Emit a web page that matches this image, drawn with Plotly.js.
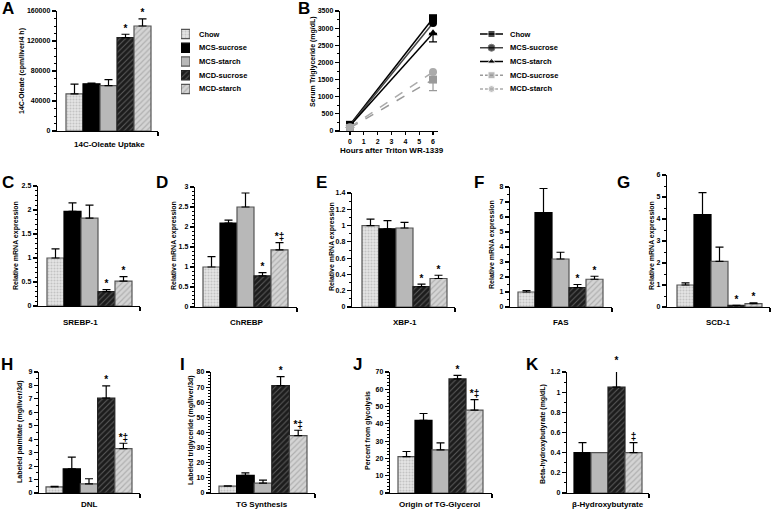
<!DOCTYPE html>
<html><head><meta charset="utf-8">
<script src="https://cdn.plot.ly/plotly-3.0.1.min.js"></script>
<style>html,body{margin:0;padding:0;background:#fff}#chart{width:771px;height:511px}</style>
</head><body><div id="chart"></div>
<script>
// ---------------- DATA ----------------
const groups = ['Chow','MCS-sucrose','MCS-starch','MCD-sucrose','MCD-starch'];
const groupsK = ['MCS-sucrose','MCS-starch','MCD-sucrose','MCD-starch'];

// A: 14C-Oleate uptake
const oleateVals = [49500, 63000, 60500, 124500, 140000];
const oleateErr  = [13000, 800, 8000, 4500, 9500];
const oleateMarks = ['', '', '', '*', '*'];

// B: serum triglyceride after Triton
const hours = [0, 6];
const tgChow = [180, 3290];
const tgMcsSucrose = [160, 3150];
const tgMcsStarch = [150, 2850];
const tgMcdSucrose = [90, 1500];
const tgMcdStarch = [110, 1720];
const tgChowErr = [0, 60];
const tgMcsSucroseErr = [0, 0];
const tgMcsStarchErr = [0, 250];
const tgMcdSucroseErr = [0, 320];
const tgMcdStarchErr = [0, 0];
const tgMarks = ['', '', '', '*', '*'];

// C-G: relative mRNA expression
const srebpVals = [1.0, 1.97, 1.83, 0.30, 0.52];
const srebpErr  = [0.19, 0.18, 0.27, 0.04, 0.09];
const srebpMarks = ['', '', '', '*', '*'];
const chrebpVals = [1.0, 2.1, 2.5, 0.78, 1.43];
const chrebpErr  = [0.26, 0.07, 0.35, 0.08, 0.18];
const chrebpMarks = ['', '', '', '*', '*‡'];
const xbpVals = [1.0, 0.96, 0.97, 0.25, 0.35];
const xbpErr  = [0.08, 0.10, 0.07, 0.03, 0.04];
const xbpMarks = ['', '', '', '*', '*'];
const fasVals = [1.0, 6.3, 3.2, 1.3, 1.85];
const fasErr  = [0.1, 1.6, 0.45, 0.2, 0.2];
const fasMarks = ['', '', '', '*', '*'];
const scdVals = [1.0, 4.2, 2.07, 0.07, 0.15];
const scdErr  = [0.1, 1.0, 0.65, 0.01, 0.04];
const scdMarks = ['', '', '', '*', '*'];

// H-K
const dnlVals = [0.45, 1.8, 0.68, 7.05, 3.3];
const dnlErr  = [0.05, 0.87, 0.38, 0.92, 0.4];
const dnlMarks = ['', '', '', '*', '*‡'];
const tgsVals = [4.5, 11.7, 6.5, 71, 38];
const tgsErr  = [0.3, 1.6, 2.0, 6, 3.5];
const tgsMarks = ['', '', '', '*', '*‡'];
const glyVals = [21, 42, 25, 66, 48];
const glyErr  = [3, 4, 4, 2, 6];
const glyMarks = ['', '', '', '*', '*‡'];
const bhbVals = [0.4, 0.4, 1.05, 0.4];
const bhbErr  = [0.1, 0, 0.2, 0.1];
const bhbMarks = ['', '', '*', '‡'];

// ---------------- STYLE ----------------
const W = 771, H = 511;
const FONT = 'Liberation Sans, Arial, sans-serif';
const barStyle = {
  'Chow':        {color:'#e6e6e6', shape:'.', fg:'#a0a0a0', size:3, sol:0.4, line:'#555'},
  'MCS-sucrose': {color:'#000000', shape:'',  fg:'#000',    size:4, sol:0.3, line:'#000'},
  'MCS-starch':  {color:'#b8b8b8', shape:'',  fg:'#b8b8b8', size:4, sol:0.3, line:'#555'},
  'MCD-sucrose': {color:'#1c1c1c', shape:'/', fg:'#9a9a9a', size:4, sol:0.25, line:'#222'},
  'MCD-starch':  {color:'#d4d4d4', shape:'/', fg:'#8c8c8c', size:4, sol:0.3, line:'#555'}
};
const lineStyle = {
  'Chow':        {color:'#000', dash:'solid', symbol:'square'},
  'MCS-sucrose': {color:'#444', dash:'solid', symbol:'circle', mcolor:'#000'},
  'MCS-starch':  {color:'#000', dash:'solid', symbol:'triangle-up'},
  'MCD-sucrose': {color:'#9a9a9a', dash:'dash', symbol:'square'},
  'MCD-starch':  {color:'#ababab', dash:'dash', symbol:'circle'}
};

const barPanels = [
  {ax_i:1, letter:'A', cats:groups, vals:oleateVals, err:oleateErr, marks:oleateMarks, xlabel:'14C-Oleate Uptake', ytitle:'14C-Oleate (cpm/liver/4 h)',
   ymax:160000, dtick:40000, minor:10000, ax:[57,158], bars:[66,151], top:11, bottom:131, xl:[109,145], yt:[22,71], lp:[8,9]},
  {ax_i:3, letter:'C', cats:groups, vals:srebpVals, err:srebpErr, marks:srebpMarks, xlabel:'SREBP-1', ytitle:'Relative mRNA expression',
   ymax:2.5, dtick:0.5, minor:0.1, ax:[38,140], bars:[47,132], top:186, bottom:306, xl:[80,322], yt:[16,246], lp:[8,182]},
  {ax_i:4, letter:'D', cats:groups, vals:chrebpVals, err:chrebpErr, marks:chrebpMarks, xlabel:'ChREBP', ytitle:'Relative mRNA expression',
   ymax:3, dtick:0.5, minor:0.1, ax:[195,297], bars:[203,288], top:187, bottom:307, xl:[247,322], yt:[174,246], lp:[162,182]},
  {ax_i:5, letter:'E', cats:groups, vals:xbpVals, err:xbpErr, marks:xbpMarks, xlabel:'XBP-1', ytitle:'Relative mRNA expression',
   ymax:1.4, dtick:0.2, minor:0.1, ax:[352,455], bars:[362,447], top:193, bottom:307, xl:[405,322], yt:[332,247], lp:[321,182]},
  {ax_i:6, letter:'F', cats:groups, vals:fasVals, err:fasErr, marks:fasMarks, xlabel:'FAS', ytitle:'Relative mRNA expression',
   ymax:8, dtick:1, minor:0.5, ax:[510,612], bars:[518,603], top:187, bottom:307, xl:[561,322], yt:[492,244], lp:[479,182]},
  {ax_i:7, letter:'G', cats:groups, vals:scdVals, err:scdErr, marks:scdMarks, xlabel:'SCD-1', ytitle:'Relative mRNA expression',
   ymax:6, dtick:1, minor:0.5, ax:[667,770], bars:[677,762], top:175, bottom:307, xl:[718,322], yt:[652,246], lp:[623,182]},
  {ax_i:8, letter:'H', cats:groups, vals:dnlVals, err:dnlErr, marks:dnlMarks, xlabel:'DNL', ytitle:'Labeled palmitate (mg/liver/3d)',
   ymax:9, dtick:1, minor:0.5, ax:[39,140], bars:[46,132], top:372, bottom:493, xl:[89,504], yt:[20,432], lp:[7,364]},
  {ax_i:9, letter:'I', cats:groups, vals:tgsVals, err:tgsErr, marks:tgsMarks, xlabel:'TG Synthesis', ytitle:'Labeled triglyceride (mg/liver/3d)',
   ymax:80, dtick:10, minor:2, ax:[211,315], bars:[219,307], top:372, bottom:493, xl:[262,504], yt:[191,430], lp:[182,364]},
  {ax_i:10, letter:'J', cats:groups, vals:glyVals, err:glyErr, marks:glyMarks, xlabel:'Origin of TG-Glycerol', ytitle:'Percent from glycolysis',
   ymax:70, dtick:10, minor:2, ax:[390,492], bars:[398,483], top:372, bottom:493, xl:[439,504], yt:[368,431], lp:[357,364]},
  {ax_i:11, letter:'K', cats:groupsK, vals:bhbVals, err:bhbErr, marks:bhbMarks, xlabel:'β-Hydroxybutyrate', ytitle:'Beta-hydroxybutyrate (mg/dL)',
   ymax:1.2, dtick:0.2, minor:0.1, ax:[567,649], bars:[574,642], top:372, bottom:493, xl:[608,504], yt:[543,434], lp:[532,364]}
];

const traces = [];
const annotations = [];
const layout = {
  width: W, height: H, margin:{l:0,r:0,t:0,b:0}, paper_bgcolor:'#fff', plot_bgcolor:'rgba(0,0,0,0)',
  showlegend:false, barmode:'overlay', bargap:0,
  font:{family:FONT, size:7, color:'#000', weight:'bold'},
  annotations: annotations
};
const fx = px => px / W;
const fy = px => 1 - px / H;
const axName = (p, i) => p + (i === 1 ? '' : i);
const tickFont = {family:FONT, size:7, color:'#000', weight:'bold'};
const markFont = {family:FONT, size:10, color:'#000', weight:'bold'};

function txt(x, y, text, size, opts) {
  annotations.push(Object.assign({xref:'paper', yref:'paper', x:fx(x), y:fy(y), text:text, showarrow:false,
    font:{family:FONT, size:size, color:'#000', weight:'bold'}, xanchor:'center', yanchor:'middle'}, opts||{}));
}
function yAxisCfg(i, top, bottom, ymax, dtick, minor, fmt) {
  return {domain:[fy(bottom), fy(top)], anchor:axName('x', i), range:[0, ymax], showline:true, linecolor:'#000', linewidth:1.3,
    ticks:'outside', ticklen:4, tickwidth:1.2, tickcolor:'#000', tick0:0, dtick:dtick, tickformat:fmt||'',
    minor:{dtick:minor, ticks:'outside', ticklen:2, tickwidth:1, tickcolor:'#000', showgrid:false},
    tickfont:tickFont, showgrid:false, zeroline:false, fixedrange:true};
}
function barMarker(s) {
  const m = {color:s.color, line:{color:s.line, width:1.2}};
  if (s.shape) m.pattern = {shape:s.shape, fillmode:'overlay', fgcolor:s.fg, size:s.size, solidity:s.sol};
  return m;
}

function addBarPanel(p) {
  const i = p.ax_i;
  const n = p.cats.length;
  const unit = (p.bars[1] - p.bars[0]) / n;
  const r0 = -0.5 - (p.bars[0] - p.ax[0]) / unit;
  const r1 = n - 0.5 + (p.ax[1] - p.bars[1]) / unit;
  layout[axName('xaxis', i)] = {domain:[fx(p.ax[0]), fx(p.ax[1])], anchor:axName('y', i), type:'linear', range:[r0, r1],
    showline:true, linecolor:'#000', linewidth:1.3, ticks:'outside', ticklen:4, tickwidth:1.2, tickcolor:'#000',
    tickvals:[r1 - 0.001], showticklabels:false, showgrid:false, zeroline:false, fixedrange:true};
  layout[axName('yaxis', i)] = yAxisCfg(i, p.top, p.bottom, p.ymax, p.dtick, p.minor, p.ymax > 9999 ? 'd' : '');
  // invisible companion y-axis with the same scale but a taller domain, for the significance marks
  const mi = 13 + i;
  const ext = Math.min(30, p.top);
  layout['yaxis' + mi] = {domain:[fy(p.bottom), fy(p.top - ext)], anchor:axName('x', i),
    range:[0, p.ymax * (p.bottom - p.top + ext) / (p.bottom - p.top)], visible:false, fixedrange:true};
  p.cats.forEach((c, k) => {
    traces.push({type:'bar', x:[k], y:[p.vals[k]], width:1, xaxis:axName('x', i), yaxis:axName('y', i), hoverinfo:'skip',
      cliponaxis:false, marker:barMarker(barStyle[c]),
      error_y:{type:'data', symmetric:false, array:[p.err[k]], arrayminus:[0], color:'#000', thickness:1.2, width:4, visible:p.err[k] > 0}});
  });
  traces.push({type:'scatter', mode:'text', x:p.cats.map((c,k)=>k), y:p.vals.map((v,k)=>v + p.err[k]), text:p.marks,
    textposition:'top center', textfont:markFont, cliponaxis:false, xaxis:axName('x', i), yaxis:'y' + mi, hoverinfo:'skip'});
  txt(p.xl[0], p.xl[1], p.xlabel, 8);
  txt(p.yt[0], p.yt[1], p.ytitle, 7, {textangle:-90});
  txt(p.lp[0], p.lp[1], p.letter, 17);
}
barPanels.forEach(addBarPanel);

// ---- Panel B (axis 2) ----
layout.xaxis2 = {domain:[fx(340), fx(438)], anchor:'y2', range:[-0.72, 6.36], showline:true, linecolor:'#000', linewidth:1.3,
  ticks:'outside', ticklen:3, tickwidth:1.2, tickcolor:'#000', tickvals:[0,1,2,3,4,5,6], tickfont:tickFont,
  showgrid:false, zeroline:false, fixedrange:true};
layout.yaxis2 = yAxisCfg(2, 11, 131, 3500, 500, 250, 'd');
const tgSeries = [tgChow, tgMcsSucrose, tgMcsStarch, tgMcdSucrose, tgMcdStarch];
const tgErrs = [tgChowErr, tgMcsSucroseErr, tgMcsStarchErr, tgMcdSucroseErr, tgMcdStarchErr];
groups.forEach((g, k) => {
  const s = lineStyle[g];
  traces.push({type:'scatter', mode:'lines+markers', x:hours, y:tgSeries[k], xaxis:'x2', yaxis:'y2', hoverinfo:'skip', cliponaxis:false,
    line:{color:s.color, dash:s.dash, width:1.5}, marker:{symbol:s.symbol, size:8, color:s.mcolor||s.color},
    error_y:{type:'data', symmetric:false, array:hours.map(()=>0), arrayminus:tgErrs[k], color:s.color, thickness:1.2, width:4}});
});
traces.push({type:'scatter', mode:'text', x:groups.map(()=>hours[hours.length-1] + 0.65), y:tgSeries.map(s=>s[s.length-1]),
  text:tgMarks, textposition:'middle center', textfont:{family:FONT, size:9, color:'#000', weight:'bold'}, cliponaxis:false,
  xaxis:'x2', yaxis:'y2', hoverinfo:'skip'});
txt(392, 150, 'Hours after Triton WR-1339', 8);
txt(313, 62, 'Serum Triglyceride (mg/dL)', 7, {textangle:-90});
txt(304, 9, 'B', 17);

// ---- Legend A (axis 12): patterned swatches ----
const rowTop = 34, rowStep = 13.75;
const legTop = rowTop - rowStep/2, legBottom = rowTop + rowStep*4.5;
layout.xaxis12 = {domain:[fx(181), fx(190)], anchor:'y12', range:[0,1], visible:false, fixedrange:true};
layout.yaxis12 = {domain:[fy(legBottom), fy(legTop)], anchor:'x12', range:[4.5,-0.5], visible:false, fixedrange:true};
groups.forEach((g, k) => {
  traces.push({type:'bar', orientation:'h', y:[k], x:[1], width:0.66, xaxis:'x12', yaxis:'y12', hoverinfo:'skip',
    marker:barMarker(barStyle[g])});
  txt(197, rowTop + k*rowStep, g, 7.5, {xanchor:'left'});
});

// ---- Legend B (axis 13): line samples ----
layout.xaxis13 = {domain:[fx(480), fx(503)], anchor:'y13', range:[0,1], visible:false, fixedrange:true};
layout.yaxis13 = {domain:[fy(legBottom), fy(legTop)], anchor:'x13', range:[4.5,-0.5], visible:false, fixedrange:true};
groups.forEach((g, k) => {
  const s = lineStyle[g];
  traces.push({type:'scatter', mode:'lines+markers', x:[0,0.5,1], y:[k,k,k], xaxis:'x13', yaxis:'y13', hoverinfo:'skip', cliponaxis:false,
    line:{color:s.color, dash:s.dash==='dash'?'3px,2px':'solid', width:1.5}, marker:{symbol:s.symbol, size:[0,7,0], color:s.mcolor||s.color}});
  txt(508, rowTop + k*rowStep, g, 7.5, {xanchor:'left'});
});

Plotly.newPlot('chart', traces, layout, {staticPlot:true, displayModeBar:false});
</script></body></html>
